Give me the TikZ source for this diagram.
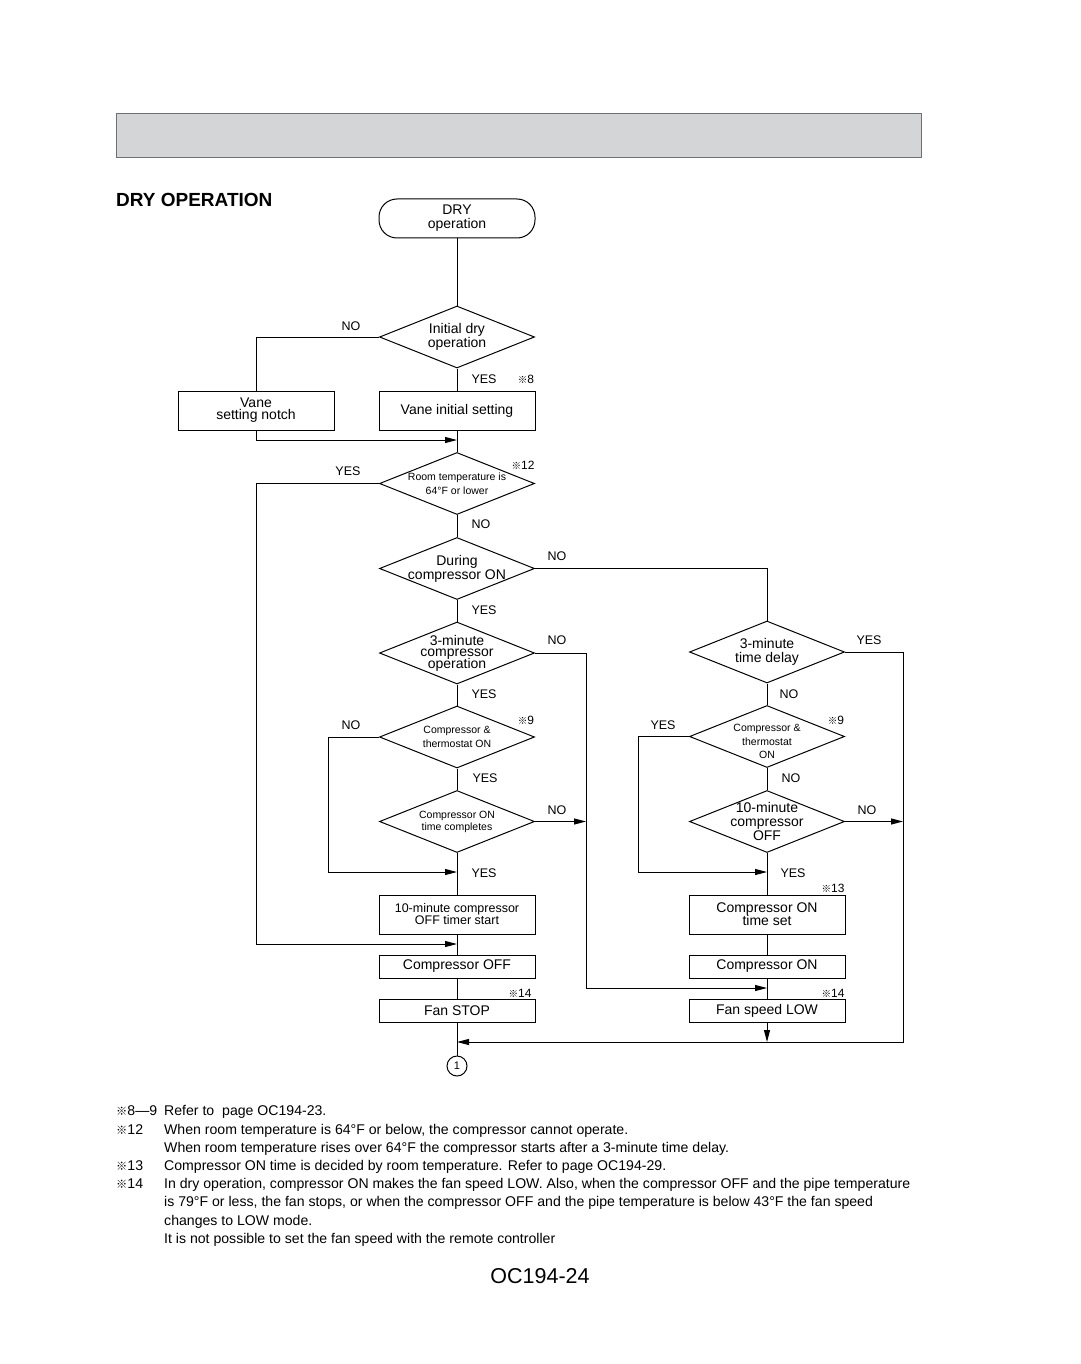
\documentclass[tikz,border=0pt]{standalone}
\usepackage{fontspec}
\setmainfont{Liberation Sans}
\newfontfamily\komefont{Noto Sans CJK JP}
\usepackage{graphicx}
\usepackage{xcolor}
\usetikzlibrary{shapes.geometric,arrows.meta,positioning}

\definecolor{bannerfill}{RGB}{211,213,214}
\definecolor{bannerline}{RGB}{110,112,114}

\newcommand\kome{{\komefont\scalebox{0.8}{※}}}
\newcommand\fsz[2]{\fontsize{#1}{#2}\selectfont\lineskiplimit=-8pt}

\tikzset{
    flow/.style={line width=1pt},
    arr/.style={flow,-{Triangle[length=12pt,width=6pt]}},
    procbox/.style={draw,line width=1pt,minimum width=156pt,minimum height=39pt,
        inner sep=0pt,align=center,font=\fsz{14}{13}},
    thinbox/.style={procbox,minimum height=23pt},
    decision/.style={draw,diamond,line width=1pt,minimum width=155pt,
        minimum height=62pt,inner sep=0pt},
    dlab/.style={align=center,inner sep=0pt,font=\fsz{14}{14}},
    dsmall/.style={dlab,font=\fsz{10.5}{14}},
    yn/.style={inner sep=0pt,font=\fsz{12.5}{14}},
    refnote/.style={inner sep=0pt,font=\fsz{12}{14}}
}

\begin{document}
\begin{tikzpicture}[x=1pt,y=-1pt]
    \useasboundingbox (0,0) rectangle (1080,1364);

    % Banner and title
    \draw[draw=bannerline,fill=bannerfill,line width=1pt] (116,114) rectangle (921,158);
    \node[anchor=west,inner sep=0pt,font=\bfseries\fsz{19}{20}] (title) at (116,199.5) {DRY OPERATION};

    % Left column
    \node[procbox,rounded corners=18pt,font=\fsz{14}{14}] (start) at (457,218.5) {DRY\\operation};
    \node[decision,label={[dlab]center:{Initial dry\\operation}}] (init) at (457,337) {};
    \node[procbox] (vinit) at (457,410.5) {Vane initial setting};
    \node[procbox,font=\fsz{14}{12}] (notch) at (256,410.5) {Vane\\setting notch};
    \node[decision,label={[dsmall]center:{Room temperature is\\64°F or lower}}] (room) at (457,483.5) {};
    \node[decision,label={[dlab]center:{During\\compressor ON}}] (during) at (457,568.5) {};
    \node[decision,label={[dlab,font=\fsz{14}{11.5}]center:{3-minute\\compressor\\operation}}] (cmp3) at (457,653) {};
    \node[decision,label={[dsmall]center:{Compressor \&\\thermostat ON}}] (thermo) at (457,737) {};
    \node[decision,label={[dsmall,font=\fsz{10.5}{12}]center:{Compressor ON\\time completes}}] (ontime) at (457,821.5) {};
    \node[procbox,font=\fsz{12.5}{12}] (timer) at (457,914.5) {10-minute compressor\\OFF timer start};
    \node[thinbox] (cmpoff) at (457,966.5) {Compressor OFF};
    \node[thinbox] (fanstop) at (457,1011) {Fan STOP};
    \node[draw,circle,line width=1pt,minimum size=20pt,inner sep=0pt,font=\fsz{11}{12}] (circ) at (457,1066) {1};

    % Right column
    \node[decision,label={[dlab]center:{3-minute\\time delay}}] (delay) at (767,652) {};
    \node[decision,label={[dsmall,font=\fsz{10.5}{13.8},yshift=-5pt]center:{Compressor \&\\thermostat\\ON}}] (thermoR) at (767,736.5) {};
    \node[decision,label={[dlab]center:{10-minute\\compressor\\OFF}}] (offR) at (767,821.5) {};
    \node[procbox] (onset) at (767,914.5) {Compressor ON\\time set};
    \node[thinbox] (cmpon) at (767,966.5) {Compressor ON};
    \node[thinbox] (fanlow) at (767,1011) {Fan speed LOW};

    % Junctions
    \coordinate (j1) at (457,440);
    \coordinate (c2) at (256,944);
    \coordinate (j2) at (457,944);
    \coordinate (c3) at (586,988);
    \coordinate (j3) at (767,988);
    \coordinate (c4) at (328,872);
    \coordinate (j4) at (457,872);
    \coordinate (j5) at (586,821.5);
    \coordinate (j6) at (457,1042);
    \coordinate (c6) at (903,1042);
    \coordinate (c7) at (638,872);
    \coordinate (j7) at (767,872);
    \coordinate (j8) at (903,821.5);
    \coordinate (j9) at (767,1042);

    % Connectors
    \draw[flow] (start) -- (init);
    \draw[flow] (init.west) -| (notch.north);
    \draw[flow] (init) -- (vinit);
    \draw[arr] (notch.south) |- (j1);
    \draw[flow] (vinit) -- (room);
    \draw[arr] (room.west) -| (c2) -- (j2);
    \draw[flow] (room) -- (during);
    \draw[flow] (during.east) -| (delay.north);
    \draw[flow] (during) -- (cmp3);
    \draw[arr] (cmp3.east) -| (c3) -- (j3);
    \draw[flow] (cmp3) -- (thermo);
    \draw[arr] (thermo.west) -| (c4) -- (j4);
    \draw[flow] (thermo) -- (ontime);
    \draw[arr] (ontime.east) -- (j5);
    \draw[flow] (ontime) -- (timer);
    \draw[flow] (timer) -- (cmpoff);
    \draw[flow] (cmpoff) -- (fanstop);
    \draw[flow] (fanstop) -- (circ);
    \draw[arr] (delay.east) -| (c6) -- (j6);
    \draw[flow] (delay) -- (thermoR);
    \draw[arr] (thermoR.west) -| (c7) -- (j7);
    \draw[flow] (thermoR) -- (offR);
    \draw[arr] (offR.east) -- (j8);
    \draw[flow] (offR) -- (onset);
    \draw[flow] (onset) -- (cmpon);
    \draw[flow] (cmpon) -- (fanlow);
    \draw[arr] (fanlow.south) -- (j9);

    % YES / NO labels
    \node[yn] (n1) at (351,326) {NO};
    \node[yn] (y1) at (484,379) {YES};
    \node[yn] (y2) at (348,471) {YES};
    \node[yn] (n2) at (481,524) {NO};
    \node[yn] (n3) at (557,556) {NO};
    \node[yn] (y3) at (484,610) {YES};
    \node[yn] (n4) at (557,640) {NO};
    \node[yn] (y4) at (484,694) {YES};
    \node[yn] (n5) at (351,725) {NO};
    \node[yn] (y5) at (485,778) {YES};
    \node[yn] (n6) at (557,810) {NO};
    \node[yn] (y6) at (484,873) {YES};
    \node[yn] (y7) at (869,640) {YES};
    \node[yn] (n7) at (789,694) {NO};
    \node[yn] (y8) at (663,725) {YES};
    \node[yn] (n8) at (791,778) {NO};
    \node[yn] (n9) at (867,810) {NO};
    \node[yn] (y9) at (793,873) {YES};

    % Reference marks
    \node[refnote] (r8) at (526,379) {\kome8};
    \node[refnote] (r12) at (523,465) {\kome12};
    \node[refnote] (r9) at (526,720) {\kome9};
    \node[refnote] (r14) at (520,993) {\kome14};
    \node[refnote] (r9b) at (836,720) {\kome9};
    \node[refnote] (r13) at (833,888) {\kome13};
    \node[refnote] (r14b) at (833,993) {\kome14};

    % Notes
    \node[anchor=north west,inner sep=0pt,font=\fsz{14.1}{18.2}] (notes) at (116,1103) {%
        \begin{tabular}{@{}p{48pt}@{}l@{}}
            \kome8---9 & Refer to\ \ page OC194-23.\\
            \kome12 & When room temperature is 64°F or below, the compressor cannot operate.\\
             & When room temperature rises over 64°F the compressor starts after a 3-minute time delay.\\
            \kome13 & Compressor ON time is decided by room temperature. Refer to page OC194-29.\\
            \kome14 & In dry operation, compressor ON makes the fan speed LOW. Also, when the compressor OFF and the pipe temperature\\
             & is 79°F or less, the fan stops, or when the compressor OFF and the pipe temperature is below 43°F the fan speed\\
             & changes to LOW mode.\\
             & It is not possible to set the fan speed with the remote controller
        \end{tabular}};
    \node[font=\fsz{21.5}{24},inner sep=0pt] (page) at (540,1276) {OC194-24};
\end{tikzpicture}
\end{document}
